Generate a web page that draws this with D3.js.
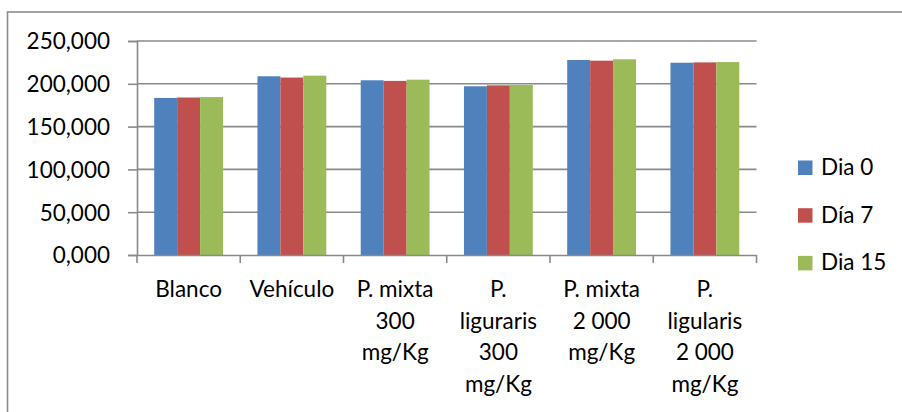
<!DOCTYPE html>
<html>
<head>
<meta charset="utf-8">
<script src="https://cdn.jsdelivr.net/npm/d3@7/dist/d3.min.js"></script>
<style>
  html, body { margin: 0; padding: 0; background: #fff; }
  svg { display: block; }
  text { font-family: Lato, "Open Sans", sans-serif; fill: #000; }
</style>
</head>
<body>
<svg id="chart" width="902" height="412"></svg>
<script>
// Category labels, one array entry per wrapped line
const categories = [
  ["Blanco"],
  ["Vehículo"],
  ["P. mixta", "300", "mg/Kg"],
  ["P.", "liguraris", "300", "mg/Kg"],
  ["P. mixta", "2 000", "mg/Kg"],
  ["P.", "ligularis", "2 000", "mg/Kg"]
];
const seriesNames = ["Dia 0", "Día 7", "Dia 15"];
const dia0  = [183500, 208800, 204100, 197100, 227800, 224600];
const dia7  = [184000, 207300, 203400, 198200, 227000, 225000];
const dia15 = [184500, 209500, 204800, 198600, 228600, 225400];
const yTicks = [0, 50000, 100000, 150000, 200000, 250000];
const colors = ["#4F81BD", "#C0504D", "#9BBB59"];

const series = [dia0, dia7, dia15];
const svg = d3.select("#chart");

// Chart area border
svg.append("rect")
  .attr("x", 7.5).attr("y", 12)
  .attr("width", 1000).attr("height", 1000)
  .attr("fill", "none")
  .attr("stroke", "#8c8c8c")
  .attr("stroke-width", 1.6);

const plot = { left: 137, right: 756.5, top: 41, bottom: 255 };

const x0 = d3.scaleBand()
  .domain(d3.range(categories.length))
  .range([plot.left, plot.right])
  .paddingInner(0.3333).paddingOuter(0.1667);
// group band: 3 bars + 1.5 bar gap (150% gap width)
const xGroup = d3.scaleBand()
  .domain(d3.range(categories.length))
  .range([plot.left, plot.right]);
const x1 = d3.scaleBand()
  .domain(d3.range(series.length))
  .range([0, xGroup.bandwidth() * 3 / 4.5]);

const y = d3.scaleLinear().domain([0, 250000]).range([plot.bottom, plot.top]);

// Gridlines
svg.append("g")
  .selectAll("line")
  .data(yTicks.filter(d => d > 0))
  .join("line")
  .attr("x1", plot.left).attr("x2", plot.right)
  .attr("y1", d => y(d)).attr("y2", d => y(d))
  .attr("stroke", "#8a8a8a")
  .attr("stroke-width", 1.6);

// Bars
const groups = svg.append("g")
  .selectAll("g")
  .data(categories.map((c, i) => i))
  .join("g")
  .attr("transform", i => `translate(${xGroup(i) + xGroup.bandwidth() * 0.75 / 4.5},0)`);

groups.selectAll("rect")
  .data(i => series.map((s, k) => ({ k, v: s[i] })))
  .join("rect")
  .attr("x", d => x1(d.k))
  .attr("width", x1.bandwidth())
  .attr("y", d => y(d.v))
  .attr("height", d => y(0) - y(d.v))
  .attr("fill", d => colors[d.k]);

// Y axis
const yAxis = d3.axisLeft(y)
  .tickValues(yTicks)
  .tickSize(9)
  .tickPadding(18)
  .tickFormat(d => d3.format(",")(d / 1000).replace(/,/g, ".") + ",000");
const gy = svg.append("g")
  .attr("transform", `translate(${plot.left},0)`)
  .call(yAxis);
gy.select(".domain").attr("stroke", "#8a8a8a").attr("stroke-width", 1.6);
gy.selectAll(".tick line").attr("stroke", "#8a8a8a").attr("stroke-width", 1.6);
gy.selectAll(".tick text")
  .attr("font-size", 22.5)
  .attr("dy", "0.35em")
  .style("font-family", "Lato, 'Open Sans', sans-serif")
  .attr("fill", "#000");

// X axis
const xAxis = d3.axisBottom(xGroup).tickSize(0).tickFormat("");
const gx = svg.append("g")
  .attr("transform", `translate(0,${plot.bottom})`)
  .call(xAxis);
gx.select(".domain").attr("stroke", "#8a8a8a").attr("stroke-width", 1.6);
gx.selectAll(".tick").remove();
// category separator ticks
gx.append("g")
  .selectAll("line")
  .data(d3.range(categories.length + 1))
  .join("line")
  .attr("x1", i => plot.left + i * xGroup.step())
  .attr("x2", i => plot.left + i * xGroup.step())
  .attr("y1", 0).attr("y2", 8)
  .attr("stroke", "#8a8a8a").attr("stroke-width", 1.6);

// Category labels
const lab = svg.append("g")
  .selectAll("text")
  .data(categories)
  .join("text")
  .attr("text-anchor", "middle")
  .attr("font-size", 22.5)
  .attr("x", (d, i) => xGroup(i) + xGroup.bandwidth() / 2)
  .attr("y", 297);
lab.selectAll("tspan")
  .data(d => d)
  .join("tspan")
  .attr("x", function () { return d3.select(this.parentNode).attr("x"); })
  .attr("y", (d, j) => 297 + j * 31.5)
  .text(d => d);

// Legend
const legend = svg.append("g")
  .selectAll("g")
  .data(seriesNames)
  .join("g")
  .attr("transform", (d, i) => `translate(798,${160.5 + i * 47.7})`);
legend.append("rect")
  .attr("width", 14.5).attr("height", 14.5)
  .attr("fill", (d, i) => colors[i]);
legend.append("text")
  .attr("x", 23).attr("y", 14.5)
  .attr("font-size", 22.5)
  .text(d => d);
</script>
</body>
</html>
